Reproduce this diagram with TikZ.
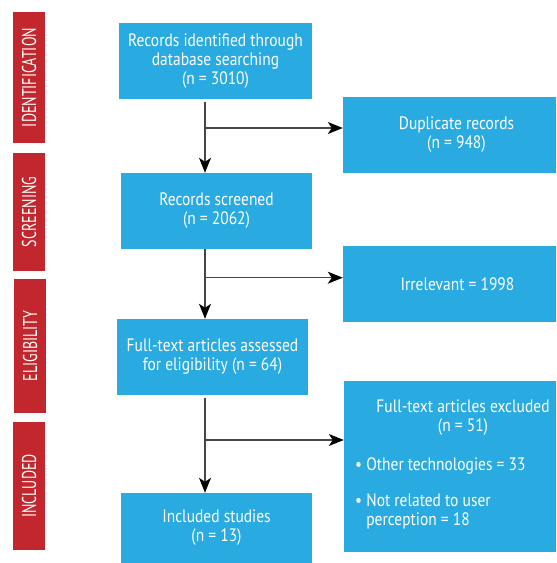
\documentclass[tikz,border=0pt]{standalone}
\usepackage{fontspec}
\setmainfont{PT Sans}[FakeStretch=0.86]
\newfontfamily\barfont{PT Sans}[FakeStretch=0.70]
\usetikzlibrary{arrows.meta}
\definecolor{boxblue}{RGB}{41,170,224}
\definecolor{barred}{RGB}{193,39,45}
\definecolor{linegray}{RGB}{70,70,70}
\begin{document}
\begin{tikzpicture}[x=1pt,y=-1pt,
  box/.style={fill=boxblue, text=white, inner sep=0pt, align=center,
    font=\fontsize{18}{18.8}\selectfont},
  boxtext/.style={text=white, inner sep=0pt, font=\fontsize{18}{18.8}\selectfont},
  bar/.style={fill=barred, text=white, inner sep=0pt, minimum width=32pt,
    font=\barfont\fontsize{20}{22}\selectfont},
  flow/.style={draw=linegray, line width=1.2pt},
  arr/.style={flow, -{Stealth[length=15pt,width=12pt,inset=4pt,color=black,fill=black]}}]
\useasboundingbox (0,0) rectangle (557,563);

% phase bars
\node[bar, minimum height=131pt] (pid) at (29,77.5) {\rotatebox{90}{IDENTIFICATION}};
\node[bar, minimum height=118pt] (psc) at (29,212) {\rotatebox{90}{SCREENING}};
\node[bar, minimum height=134pt] (pel) at (30,346) {\rotatebox{90}{ELIGIBILITY}};
\node[bar, minimum height=128pt] (pin) at (29,486) {\rotatebox{90}{INCLUDED}};

% main boxes
\node[box, minimum width=193pt, minimum height=76pt] (b1) at (215.5,61)
  {Records identified through\\database searching\\(n = 3010)};
\node[box, minimum width=191pt, minimum height=76pt] (sc) at (216.5,211)
  {Records screened\\(n = 2062)};
\node[box, minimum width=191pt, minimum height=76pt] (ft) at (212.5,357)
  {Full-text articles assessed\\for eligibility (n = 64)};
\node[box, minimum width=191pt, minimum height=70pt] (inc) at (216.5,528)
  {Included studies\\(n = 13)};

% side boxes
\node[box, minimum width=213pt, minimum height=76pt] (dup) at (449.5,135) {};
\node[boxtext, align=center] (duptxt) at ([xshift=7pt]dup.center) {Duplicate records\\(n = 948)};
\node[box, minimum width=213pt, minimum height=76pt] (irr) at (449.5,284) {};
\node[boxtext] (irrtxt) at ([xshift=8pt]irr.center) {Irrelevant = 1998};
\node[box, minimum width=212pt, minimum height=171pt] (exc) at (450,466.5) {};
\node[boxtext, align=center, anchor=north] (exct) at (463,400)
  {Full-text articles excluded\\(n = 51)};
\node[boxtext, align=left, anchor=north west] (excb) at (355,457)
  {• Other technologies = 33\\[18pt]• Not related to user\\\phantom{• }perception = 18};

% connectors
\coordinate (tr) at (205,0);
\coordinate (j1) at (205,128);
\coordinate (j2) at (205,277.7);
\coordinate (j3) at (205,440);
\draw[arr] ([yshift=-3pt]b1.south -| tr) -- (sc.north -| tr);
\draw[arr] (j1) -- (j1 -| dup.west);
\draw[arr] (sc.south -| tr) -- (ft.north -| tr);
\draw[arr] (j2) -- (j2 -| irr.west);
\draw[arr] ([yshift=-3pt]ft.south -| tr) -- (inc.north -| tr);
\draw[arr] (j3) -- (j3 -| exc.west);
\end{tikzpicture}
\end{document}
